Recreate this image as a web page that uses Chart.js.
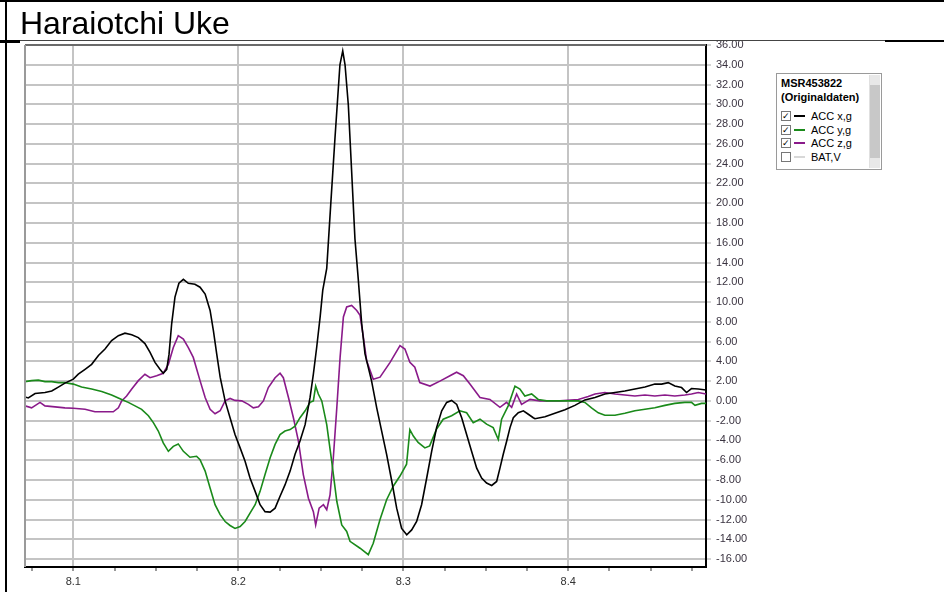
<!DOCTYPE html>
<html>
<head>
<meta charset="utf-8">
<script src="https://cdn.jsdelivr.net/npm/chart.js@4/dist/chart.umd.min.js"></script>
<style>
  html, body { margin:0; padding:0; background:#fff; }
  body { width:944px; height:592px; position:relative; overflow:hidden; font-family:"Liberation Sans", Arial, sans-serif; }
  #topline { position:absolute; left:0; top:0; width:944px; height:2px; background:#000; }
  #leftline { position:absolute; left:5px; top:0; width:2px; height:592px; background:#000; }
  #title { position:absolute; left:20px; top:5px; font-size:32px; color:#000; line-height:36px; white-space:nowrap; }
  #sep1 { position:absolute; left:0px; top:40px; width:20px; height:3px; background:#000; }
  #sep2 { position:absolute; left:20px; top:40px; width:865px; height:1px; background:#444; }
  #sep3 { position:absolute; left:885px; top:40px; width:59px; height:2px; background:#000; }
  #wrap { position:absolute; left:0; top:0; width:944px; height:592px; }
  #legend { position:absolute; left:776px; top:73px; width:106px; height:97px; border:1px solid #9a9a9a; background:#fff; font-size:11px; color:#000; box-sizing:border-box; }
  #legend .hdr { font-weight:bold; position:absolute; left:4px; }
  #legend .row { position:absolute; left:4px; height:13px; line-height:13px; white-space:nowrap; }
  #legend .cb { display:inline-block; width:8px; height:8px; border:1px solid #777; vertical-align:middle; position:relative; margin-right:3px; font-size:9px; line-height:8px; text-align:center; color:#000; top:-1px; }
  #legend .ln { display:inline-block; width:11px; height:2px; vertical-align:middle; margin-right:6px; position:relative; top:-1px; }
  #scroll { position:absolute; right:1px; top:1px; width:10px; bottom:1px; background:#c8c8c8; border-left:1px solid #e0e0e0; }
  #scroll .a1 { position:absolute; left:0; top:0; width:10px; height:10px; background:#e8e8e8; }
  #scroll .a2 { position:absolute; left:0; bottom:0; width:10px; height:10px; background:#e8e8e8; }
</style>
</head>
<body>
<div id="wrap"><canvas id="c" width="944" height="592"></canvas></div>
<div id="topline"></div>
<div id="leftline"></div>
<div id="title">Haraiotchi Uke</div>
<div id="sep1"></div><div id="sep2"></div><div id="sep3"></div>
<div id="legend"></div>
<script>
// ---- data ----
const chartTitle = "Haraiotchi Uke";
const legendHeader = ["MSR453822", "(Originaldaten)"];
const seriesNames = ["ACC x,g", "ACC y,g", "ACC z,g", "BAT,V"];
const seriesColors = ["#000000", "#1a8a1a", "#8a1a8a", "#d8d8d8"];
const seriesChecked = [true, true, true, false];

const tX = [8.0707,8.0727,8.0768,8.0828,8.0869,8.0909,8.0949,8.1000,8.1030,8.1071,8.1111,8.1152,8.1192,8.1232,8.1273,8.1313,8.1354,8.1394,8.1434,8.1465,8.1495,8.1525,8.1545,8.1566,8.1580,8.1596,8.1616,8.1640,8.1667,8.1697,8.1737,8.1768,8.1799,8.1829,8.1849,8.1869,8.1890,8.1920,8.1950,8.1980,8.2011,8.2041,8.2071,8.2102,8.2132,8.2162,8.2193,8.2223,8.2253,8.2283,8.2314,8.2344,8.2374,8.2405,8.2435,8.2455,8.2475,8.2496,8.2512,8.2536,8.2560,8.2586,8.2616,8.2633,8.2647,8.2667,8.2687,8.2707,8.2727,8.2748,8.2768,8.2808,8.2839,8.2869,8.2899,8.2930,8.2960,8.2990,8.3021,8.3051,8.3081,8.3111,8.3142,8.3172,8.3202,8.3233,8.3263,8.3293,8.3324,8.3354,8.3384,8.3414,8.3445,8.3475,8.3505,8.3536,8.3566,8.3586,8.3606,8.3627,8.3647,8.3667,8.3697,8.3728,8.3758,8.3788,8.3798,8.3859,8.3919,8.3980,8.4040,8.4101,8.4162,8.4222,8.4283,8.4343,8.4404,8.4465,8.4525,8.4566,8.4606,8.4646,8.4687,8.4717,8.4747,8.4788,8.4835];
const accX = [0.4,0.3,0.75,0.85,1.0,1.4,1.8,2.2,2.7,3.2,3.7,4.6,5.25,6.1,6.6,6.85,6.7,6.4,5.8,4.9,3.9,3.2,2.8,3.2,4.7,7.8,10.5,11.9,12.3,11.9,11.8,11.5,10.8,9.15,7.1,4.75,2.4,0,-1.7,-3.4,-4.75,-6.1,-7.8,-9.15,-10.5,-11.2,-11.25,-10.85,-9.65,-8.5,-7.1,-5.4,-4.05,-2.4,0.35,2.7,5.4,8.5,11.2,13.4,19.8,26.6,34.0,35.4,34.0,29.9,23.2,16.4,12.35,7.8,4.75,2.0,-0.7,-3.05,-5.4,-8.1,-10.85,-12.9,-13.55,-13.05,-12.2,-10.5,-7.8,-5.1,-2.7,-1.0,-0.15,0.05,-0.35,-1.7,-3.4,-5.1,-6.8,-7.8,-8.3,-8.55,-8.15,-6.8,-5.4,-4.05,-2.7,-1.7,-1.2,-1.0,-1.35,-1.7,-1.8,-1.6,-1.25,-0.9,-0.45,0.1,0.35,0.7,0.85,1.0,1.2,1.4,1.7,1.7,1.85,1.5,1.35,0.85,1.25,1.2,1.1];

const tY = [8.0707,8.0747,8.0788,8.0828,8.0869,8.0909,8.0949,8.1000,8.1050,8.1111,8.1172,8.1232,8.1293,8.1333,8.1374,8.1414,8.1455,8.1485,8.1515,8.1545,8.1576,8.1606,8.1636,8.1667,8.1707,8.1747,8.1768,8.1799,8.1829,8.1859,8.1890,8.1920,8.1950,8.1980,8.2011,8.2041,8.2071,8.2102,8.2132,8.2162,8.2193,8.2223,8.2253,8.2283,8.2314,8.2344,8.2374,8.2405,8.2435,8.2455,8.2469,8.2485,8.2506,8.2536,8.2566,8.2597,8.2627,8.2657,8.2677,8.2738,8.2788,8.2818,8.2859,8.2899,8.2940,8.2980,8.3020,8.3040,8.3061,8.3090,8.3131,8.3160,8.3200,8.3242,8.3293,8.3343,8.3384,8.3424,8.3465,8.3505,8.3545,8.3576,8.3596,8.3636,8.3677,8.3707,8.3737,8.3778,8.3818,8.3869,8.3950,8.4000,8.4061,8.4101,8.4141,8.4182,8.4222,8.4283,8.4343,8.4404,8.4465,8.4525,8.4586,8.4646,8.4707,8.4747,8.4768,8.4808,8.4835];
const accY = [1.95,2.05,2.1,1.95,1.95,1.85,1.85,1.7,1.4,1.2,0.95,0.6,0.15,-0.15,-0.5,-0.85,-1.5,-2.2,-3.05,-4.25,-5.1,-4.6,-4.35,-5.1,-5.7,-5.6,-5.95,-7.1,-8.8,-10.5,-11.5,-12.2,-12.6,-12.9,-12.7,-12.2,-11.35,-10.5,-9.15,-7.45,-5.75,-4.4,-3.4,-3.05,-2.9,-2.55,-1.7,-1.0,-0.15,0,1.5,0.7,0,-2.4,-6.1,-10.15,-12.55,-13.2,-14.2,-14.9,-15.55,-14.4,-12.0,-10.0,-8.6,-7.6,-6.4,-2.9,-3.55,-4.2,-4.75,-4.55,-2.9,-1.85,-1.5,-1.0,-1.2,-2.2,-1.85,-2.35,-2.7,-3.9,-1.85,-0.5,1.5,1.2,0.5,0.7,0.15,0,0,0,0,-0.15,-0.7,-1.2,-1.45,-1.45,-1.25,-1.0,-0.85,-0.7,-0.45,-0.25,-0.15,-0.15,-0.45,-0.25,-0.25];

const tZ = [8.0707,8.0747,8.0798,8.0828,8.0889,8.0949,8.1000,8.1071,8.1131,8.1192,8.1242,8.1273,8.1293,8.1323,8.1354,8.1394,8.1434,8.1465,8.1505,8.1545,8.1576,8.1606,8.1636,8.1667,8.1697,8.1727,8.1768,8.1799,8.1829,8.1859,8.1890,8.1920,8.1950,8.1980,8.2021,8.2061,8.2091,8.2122,8.2152,8.2182,8.2223,8.2253,8.2273,8.2304,8.2334,8.2364,8.2394,8.2425,8.2455,8.2469,8.2490,8.2516,8.2536,8.2556,8.2576,8.2597,8.2617,8.2637,8.2657,8.2687,8.2718,8.2738,8.2758,8.2778,8.2818,8.2859,8.2920,8.2980,8.3010,8.3040,8.3070,8.3100,8.3162,8.3222,8.3283,8.3323,8.3364,8.3404,8.3465,8.3525,8.3586,8.3626,8.3657,8.3687,8.3717,8.3768,8.3828,8.3950,8.4061,8.4121,8.4162,8.4222,8.4283,8.4343,8.4404,8.4465,8.4525,8.4586,8.4646,8.4707,8.4747,8.4788,8.4835];
const accZ = [-0.5,-0.7,-0.15,-0.5,-0.6,-0.7,-0.75,-0.85,-1.1,-1.1,-1.1,-0.7,0,0.5,1.2,2.05,2.7,2.35,2.55,2.8,3.7,5.4,6.6,6.25,5.4,4.4,2.05,0.35,-0.85,-1.3,-1.0,0,0.25,0.05,0,-0.35,-0.7,-0.6,0,1.35,2.35,2.8,2.35,0.35,-1.7,-4.05,-7.45,-9.85,-11.2,-12.55,-10.85,-10.5,-11.0,-9.5,-5.75,-0.7,4.4,8.5,9.5,9.65,9.15,8.65,6.45,4.05,2.2,2.4,3.9,5.6,5.25,3.9,3.4,1.85,1.5,2.0,2.55,2.9,2.55,1.7,0.35,0.15,-0.65,-0.15,-0.65,0.7,-0.35,0.15,0,0,0.15,0.45,0.7,0.85,0.7,0.6,0.5,0.6,0.5,0.6,0.5,0.6,0.7,0.85,0.7];

const tBat = [];
const bat = [];

const xMin = 8.0707, xMax = 8.4835;
const yMin = -16.8, yMax = 36;
const yStep = 2, xStep = 0.025;

// ---- legend (HTML) ----
(function(){
  const lg = document.getElementById('legend');
  let html = '';
  html += '<div class="hdr" style="top:3px">' + legendHeader[0] + '</div>';
  html += '<div class="hdr" style="top:17px">' + legendHeader[1] + '</div>';
  seriesNames.forEach((n, i) => {
    const top = 36 + i * 13.5;
    html += '<div class="row" style="top:' + top + 'px"><span class="cb">' + (seriesChecked[i] ? '&#10003;' : '') + '</span>' +
            '<span class="ln" style="background:' + seriesColors[i] + '"></span>' + n + '</div>';
  });
  html += '<div id="scroll"><div class="a1"></div><div class="a2"></div></div>';
  lg.innerHTML = html;
})();

// ---- chart ----
const toPts = (t, v) => t.map((x, i) => ({ x: x, y: v[i] }));
const seriesT = [tX, tY, tZ, tBat];
const seriesV = [accX, accY, accZ, bat];

const framePlugin = {
  id: 'frame',
  afterDraw(chart) {
    const a = chart.chartArea, ctx = chart.ctx;
    ctx.save();
    ctx.strokeStyle = '#6a6a6a';
    ctx.lineWidth = 2;
    ctx.beginPath();
    ctx.moveTo(a.left, a.top); ctx.lineTo(a.right, a.top);
    ctx.stroke();
    ctx.strokeStyle = '#9a9a9a';
    ctx.beginPath();
    ctx.moveTo(a.left, a.top); ctx.lineTo(a.left, a.bottom);
    ctx.stroke();
    ctx.restore();
  }
};

const isMajor = v => Math.abs(v * 10 - Math.round(v * 10)) < 1e-6;

new Chart(document.getElementById('c'), {
  type: 'line',
  data: {
    datasets: seriesNames.map((n, i) => ({
      label: n,
      data: toPts(seriesT[i], seriesV[i]),
      borderColor: seriesColors[i],
      backgroundColor: seriesColors[i],
      borderWidth: 1.6,
      pointRadius: 0,
      tension: 0,
      hidden: !seriesChecked[i]
    }))
  },
  options: {
    responsive: false,
    animation: false,
    events: [],
    layout: { padding: { left: 25, top: 45, right: 178, bottom: 0 } },
    plugins: { legend: { display: false }, title: { display: false }, tooltip: { enabled: false } },
    scales: {
      x: {
        type: 'linear',
        min: xMin, max: xMax,
        afterFit(s) { s.height = 25; },
        ticks: {
          stepSize: xStep,
          includeBounds: false,
          autoSkip: false,
          maxRotation: 0,
          color: '#333',
          font: { family: 'Liberation Sans, Arial', size: 11 },
          padding: 4,
          callback: v => isMajor(v) ? v.toFixed(1) : ''
        },
        grid: {
          color: c => (c.tick && isMajor(c.tick.value)) ? '#c4c4c4' : 'rgba(0,0,0,0)',
          lineWidth: 2,
          tickColor: '#999',
          tickLength: 4,
          drawTicks: true
        },
        border: { color: '#000', width: 2 }
      },
      y: {
        position: 'right',
        min: yMin, max: yMax,
        afterFit(s) { s.width = 60; },
        ticks: {
          stepSize: yStep,
          includeBounds: false,
          autoSkip: false,
          color: '#3a3340',
          font: { family: 'Liberation Sans, Arial', size: 11 },
          padding: 5,
          callback: v => v.toFixed(2)
        },
        grid: {
          color: '#c4c4c4',
          lineWidth: 2,
          tickColor: '#aaa',
          tickLength: 5,
          tickWidth: 1
        },
        border: { color: '#000', width: 2 }
      }
    }
  },
  plugins: [framePlugin]
});
</script>
</body>
</html>
